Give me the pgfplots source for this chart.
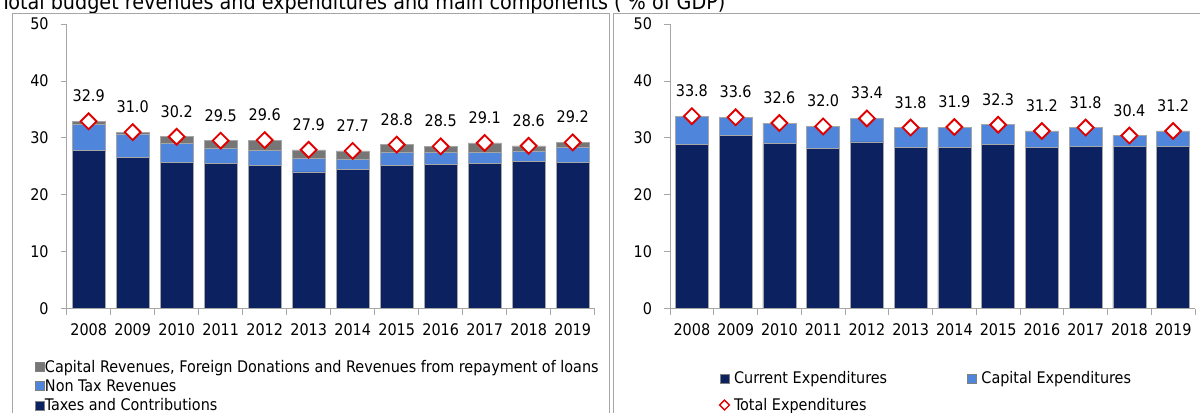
\documentclass[border=0pt]{standalone}
\usepackage{pgfplots}
\usepackage{pgfplotstable}
\pgfplotsset{compat=1.18}
\usepackage{fontspec}
\setmainfont{DejaVu Sans Condensed}
\definecolor{navy}{HTML}{0C2160}
\definecolor{ntax}{HTML}{4F86DB}
\definecolor{capg}{HTML}{767676}
\definecolor{mred}{HTML}{E00000}
\definecolor{frame}{HTML}{A6A6A6}

\pgfplotstableread{
x tax nontax cap total
0 27.8 4.5 0.6 32.9
1 26.5 4.2 0.3 31.0
2 25.7 3.3 1.2 30.2
3 25.5 2.7 1.3 29.5
4 25.1 2.7 1.8 29.6
5 24.0 2.4 1.5 27.9
6 24.5 1.8 1.4 27.7
7 25.1 2.3 1.4 28.8
8 25.3 2.1 1.1 28.5
9 25.5 2.0 1.6 29.1
10 25.9 1.8 0.9 28.6
11 25.7 2.6 0.9 29.2
}\revtable

\pgfplotstableread{
x cur capx total
0 28.9 4.9 33.8
1 30.4 3.2 33.6
2 29.0 3.6 32.6
3 28.2 3.8 32.0
4 29.3 4.1 33.4
5 28.3 3.5 31.8
6 28.3 3.6 31.9
7 28.9 3.4 32.3
8 28.3 2.9 31.2
9 28.5 3.3 31.8
10 28.5 1.9 30.4
11 28.5 2.7 31.2
}\exptable

\pgfplotsset{
  geom/.style={
    scale only axis,
    height=213.4pt,
    ymin=0, ymax=50,
    xmin=-0.5, xmax=11.5,
    anchor=south west,
  },
  panel/.style={
    geom,
    ytick={0,10,...,50},
    xtick={-0.5,0.5,...,11.5},
    x tick label as interval,
    xticklabels={2008,2009,2010,2011,2012,2013,2014,2015,2016,2017,2018,2019},
    axis x line*=bottom, axis y line*=left,
    axis line style={frame, line width=0.6pt, -},
    tick style={frame, line width=0.6pt},
    tick align=outside,
    major tick length=4.5pt,
    ticklabel style={font=\fontsize{12}{14}\selectfont, text=black},
    yticklabel style={xshift=-5.5pt},
    xticklabel style={yshift=-3.5pt},
    /pgf/number format/assume math mode=true,
    ybar stacked,
    bar width=24.75pt,
  },
  legsty/.style={
    legend cell align=left,
    legend style={draw=none, fill=none, font=\fontsize{12}{14}\selectfont, inner sep=0pt},
  },
  legnavy/.style={legend image code/.code={\draw[fill=navy, draw=gray] (0pt,-3.4pt) rectangle (6.8pt,3.4pt);}},
  legntax/.style={legend image code/.code={\draw[fill=ntax, draw=gray] (0pt,-3.4pt) rectangle (6.8pt,3.4pt);}},
  legcapg/.style={legend image code/.code={\draw[fill=capg, draw=gray] (0pt,-3.4pt) rectangle (6.8pt,3.4pt);}},
  totplot/.style={
    only marks,
    mark=square*, mark size=4.2pt,
    mark options={rotate=45, fill=white, draw=mred, line width=1.4pt},
    nodes near coords,
    point meta=y,
    every node near coord/.style={anchor=center, yshift=19pt, text=black, font=\fontsize{12}{14}\selectfont,
      /pgf/number format/.cd, fixed, fixed zerofill, precision=1, assume math mode=true},
  },
}

\begin{document}
\begin{tikzpicture}
\useasboundingbox (0,0) rectangle (900pt,-309pt);
\clip (0,0) rectangle (900pt,-309pt);
\node[anchor=base west, inner sep=0pt, font=\fontsize{16}{19}\selectfont] at (0pt,-7pt) {Total budget revenues and expenditures and main components ( \% of GDP)};
\draw[frame, line width=0.75pt] (9pt,-330pt) |- (456.75pt,-9.75pt) -- (456.75pt,-330pt);
\draw[frame, line width=0.75pt] (459.75pt,-330pt) |- (910pt,-9.75pt);

% ---------- left panel: revenues ----------
\begin{axis}[panel, legsty, width=396pt, at={(50pt,-231.4pt)},
  legend style={at={(-0.061,-0.17)}, anchor=north west, legend columns=1,
    /tikz/every odd column/.append style={column sep=-1.5pt}},
  reverse legend]
\addplot[fill=navy, draw=frame, legnavy] table[x=x,y=tax]{\revtable};
\addlegendentry{Taxes and Contributions}
\addplot[fill=ntax, draw=frame, legntax] table[x=x,y=nontax]{\revtable};
\addlegendentry{Non Tax Revenues}
\addplot[fill=capg, draw=frame, legcapg] table[x=x,y=cap]{\revtable};
\addlegendentry{Capital Revenues, Foreign Donations and Revenues from repayment of loans}
\end{axis}
\begin{axis}[geom, hide axis, width=396pt, at={(50pt,-231.4pt)}]
\addplot[totplot] table[x=x,y=total]{\revtable};
\end{axis}

% ---------- right panel: expenditures ----------
\begin{axis}[panel, width=393.75pt, at={(502.5pt,-231.4pt)}]
\addplot[fill=navy, draw=frame] table[x=x,y=cur]{\exptable};
\addplot[fill=ntax, draw=frame] table[x=x,y=capx]{\exptable};
\end{axis}
\begin{axis}[geom, hide axis, legsty, width=393.75pt, at={(502.5pt,-231.4pt)},
  legend style={at={(0.094,-0.212)}, anchor=north west, legend columns=2,
    /tikz/row sep=5pt,
    /tikz/every odd column/.append style={column sep=1.5pt},
    /tikz/every even column/.append style={column sep=58pt}}]
\addlegendimage{legnavy}
\addlegendentry{Current Expenditures}
\addlegendimage{legntax}
\addlegendentry{Capital Expenditures}
\addplot[totplot, legend image code/.code={\draw[mark=square*, mark size=2.6pt, mark options={rotate=45, fill=white, draw=mred, line width=1pt}] plot coordinates {(3.4pt,0pt)};}] table[x=x,y=total]{\exptable};
\addlegendentry{Total Expenditures}
\end{axis}
\end{tikzpicture}
\end{document}
